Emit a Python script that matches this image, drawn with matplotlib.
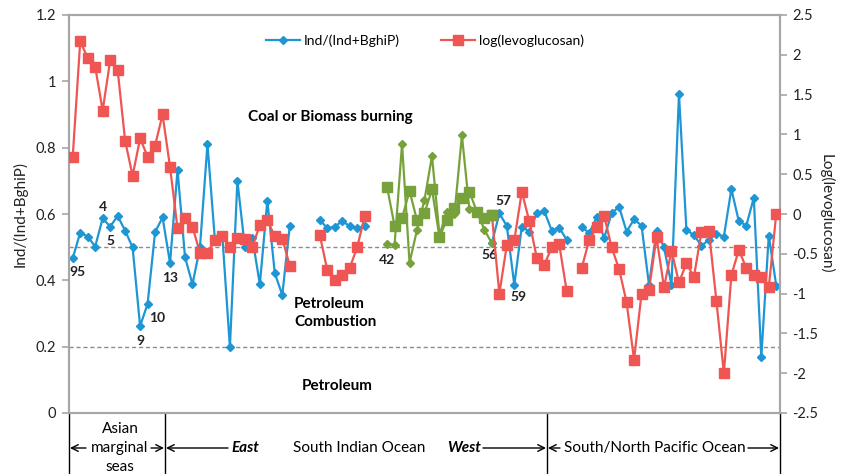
import numpy as np
import matplotlib
matplotlib.use('Agg')
import matplotlib.pyplot as plt
from matplotlib.lines import Line2D

plt.rcParams['font.family'] = ['Lato', 'DejaVu Sans']

nan = np.nan

# Ind/(Ind+BghiP), left axis, one value per sample position (nan = no data)
ind_ratio = [0.467, 0.544, 0.532, 0.502, 0.587, 0.562, 0.594, 0.550, 0.499, 0.262,
             0.329, 0.545, 0.590, 0.452, 0.733, 0.470, 0.388, 0.500, 0.811, 0.520,
             0.530, 0.198, 0.700, 0.499, 0.527, 0.388, 0.640, 0.421, 0.356, 0.564,
             nan, nan, nan, 0.583, 0.557, 0.562, 0.578, 0.564, 0.557, 0.564,
             nan, nan, nan, nan, nan, nan, nan, nan, nan, nan,
             nan, nan, nan, nan, nan, nan, 0.512, 0.602, 0.564, 0.386,
             0.562, 0.547, 0.602, 0.609, 0.550, 0.559, 0.522, nan, 0.562, 0.542,
             0.590, 0.528, 0.602, 0.622, 0.547, 0.584, 0.565, 0.386, 0.550, 0.500,
             0.386, 0.962, 0.551, 0.537, 0.504, 0.522, 0.540, 0.532, 0.675, 0.578,
             0.565, 0.649, 0.168, 0.535, 0.384]

# log(levoglucosan), right axis
log_levo = [0.72, 2.17, 1.96, 1.85, 1.30, 1.93, 1.81, 0.92, 0.48, 0.95,
            0.72, 0.86, 1.25, 0.59, -0.18, -0.05, -0.16, -0.49, -0.49, -0.33,
            -0.28, -0.41, -0.30, -0.32, -0.41, -0.14, -0.08, -0.28, -0.31, -0.65,
            nan, nan, nan, -0.26, -0.70, -0.83, -0.77, -0.68, -0.42, -0.03,
            nan, nan, nan, nan, nan, nan, nan, nan, nan, nan,
            nan, nan, nan, nan, nan, nan, -0.01, -1.00, -0.39, -0.33,
            0.28, -0.09, -0.55, -0.64, -0.42, -0.38, -0.97, nan, -0.68, -0.33,
            -0.16, -0.02, -0.42, -0.69, -1.11, -1.83, -1.00, -0.95, -0.29, -0.92,
            -0.46, -0.86, -0.62, -0.79, -0.23, -0.21, -1.09, -2.00, -0.77, -0.45,
            -0.68, -0.77, -0.79, -0.92, 0.00]

# west South Indian Ocean stretch (samples 42-56), drawn in green
green_first = 42
green_ratio = [0.510, 0.507, 0.811, 0.453, 0.552, 0.643, 0.775, 0.537, 0.607, 0.599,
               0.837, 0.614, 0.610, 0.552, 0.512]
green_levo = [0.34, -0.15, -0.05, 0.29, -0.08, 0.01, 0.31, -0.29, -0.07, 0.08,
              0.20, 0.28, 0.03, -0.05, -0.01]

# sample numbers written next to some points
label_text = ['95', '4', '5', '9', '10', '13', '42', '56', '57', '59']
label_pos = [0, 4, 5, 9, 10, 13, 42, 56, 57, 59]

BLUE = '#1F96D4'
RED = '#EF5552'
GREEN = '#77A23B'
GRID = '#8C8C8C'
SPINE = '#A6A6A6'
TXT = '#222222'

W, H = 843, 474
L, R, T, B = 69, 780, 15, 413   # plot box in pixels


def fx(px):
    return (px - L) / (R - L)


def fy(py):
    return (B - py) / (B - T)


fig = plt.figure(figsize=(W / 100, H / 100), dpi=100)
ax = fig.add_axes([L / W, 1 - B / H, (R - L) / W, (B - T) / H])
ax2 = ax.twinx()

x = np.arange(len(ind_ratio))
xg = np.arange(green_first, green_first + len(green_ratio))

ax.plot(x, ind_ratio, color=BLUE, lw=1.6, marker='D', ms=3.6, zorder=3)
ax.plot(xg, green_ratio, color=GREEN, lw=1.6, marker='D', ms=3.6, zorder=4)
ax2.plot(x, log_levo, color=RED, lw=1.6, marker='s', ms=6.5, zorder=3)
ax2.plot(xg, green_levo, color=GREEN, lw=1.6, marker='s', ms=6.5, zorder=4)

ax.axhline(0.5, color=GRID, ls=(0, (3, 2)), lw=1, zorder=1)
ax.axhline(0.2, color=GRID, ls=(0, (3, 2)), lw=1, zorder=1)

ax.set_xlim(-0.5, len(ind_ratio) - 0.5)
ax.set_ylim(0, 1.2)
ax2.set_ylim(-2.5, 2.5)
ax.set_xticks([])
ax.set_yticks([0, 0.2, 0.4, 0.6, 0.8, 1.0, 1.2])
ax.set_yticklabels(['0', '0.2', '0.4', '0.6', '0.8', '1', '1.2'])
ax2.set_yticks(np.arange(-2.5, 2.51, 0.5))
ax2.set_yticklabels(['-2.5', '-2', '-1.5', '-1', '-0.5', '0', '0.5', '1', '1.5', '2', '2.5'])

for a in (ax, ax2):
    for s in a.spines.values():
        s.set_color(SPINE)
        s.set_linewidth(1.5)
    a.tick_params(axis='y', direction='out', length=5, width=1.2, color=SPINE,
                  labelsize=10.5, labelcolor=TXT, pad=4)

ax.set_ylabel('Ind/(Ind+BghiP)', fontsize=11, color=TXT, labelpad=6)
ax2.set_ylabel('Log(levoglucosan)', fontsize=11, color=TXT, rotation=270, labelpad=11)

# legend at the top
handles = [Line2D([], [], color=BLUE, lw=1.6, marker='D', ms=3.6),
           Line2D([], [], color=RED, lw=1.6, marker='s', ms=6.5)]
fig.legend(handles, ['Ind/(Ind+BghiP)', 'log(levoglucosan)'], loc='center',
           bbox_to_anchor=(425 / W, 1 - 41 / H), ncol=2, frameon=False,
           fontsize=10, handlelength=2.4, columnspacing=3, handletextpad=0.3)

# source regions
ax.text(fx(330), fy(117), 'Coal or Biomass burning', transform=ax.transAxes,
        ha='center', va='center', fontsize=11, fontweight='bold', color='black')
ax.text(fx(294), fy(313), 'Petroleum\nCombustion', transform=ax.transAxes,
        ha='left', va='center', fontsize=11, fontweight='bold', linespacing=1.3)
ax.text(fx(302), fy(386), 'Petroleum', transform=ax.transAxes,
        ha='left', va='center', fontsize=11, fontweight='bold')

# sample number labels (offsets in pixels)
offsets = [(5, -14), (0, 11), (0, -14), (0, -15), (10, -14), (0, -15),
           (0, -16), (-2, -12), (4, 12), (4, -12)]
for txt, i, off in zip(label_text, label_pos, offsets):
    if green_first <= i < green_first + len(green_ratio) - 1:
        yv = green_ratio[i - green_first]
    else:
        yv = ind_ratio[i]
    ax.annotate(txt, (i, yv), xytext=off, textcoords='offset pixels',
                ha='center', va='center', fontsize=10, fontweight='bold', color=TXT)

# region bar under the plot
ybot = fy(H + 5)
yarr = fy(448)
for px in (L, 165, 547, R):
    ax.plot([fx(px), fx(px)], [0, ybot], transform=ax.transAxes, clip_on=False,
            color='black', lw=1)

arrow = dict(arrowstyle='->', color='black', lw=1, mutation_scale=12, shrinkA=0, shrinkB=0)


def arr(x0, x1):
    ax.annotate('', xy=(fx(x1), yarr), xytext=(fx(x0), yarr), xycoords='axes fraction',
                textcoords='axes fraction', arrowprops=arrow, annotation_clip=False)


arr(86, L + 1)
arr(151, 164)
arr(228, 166)
arr(483, 546)
arr(560, 548)
arr(748, R - 1)

ax.text(fx(120), fy(429), 'Asian', transform=ax.transAxes, ha='center', va='center', fontsize=11)
ax.text(fx(120), fy(448), 'marginal', transform=ax.transAxes, ha='center', va='center', fontsize=11)
ax.text(fx(120), fy(467), 'seas', transform=ax.transAxes, ha='center', va='center', fontsize=11)
ax.text(fx(245), fy(448), 'East', transform=ax.transAxes, ha='center', va='center',
        fontsize=11, fontweight='bold', fontstyle='italic')
ax.text(fx(359), fy(448), 'South Indian Ocean', transform=ax.transAxes, ha='center',
        va='center', fontsize=11)
ax.text(fx(464), fy(448), 'West', transform=ax.transAxes, ha='center', va='center',
        fontsize=11, fontweight='bold', fontstyle='italic')
ax.text(fx(655), fy(448), 'South/North Pacific Ocean', transform=ax.transAxes, ha='center',
        va='center', fontsize=11)

fig.savefig('out.png', dpi=100)
